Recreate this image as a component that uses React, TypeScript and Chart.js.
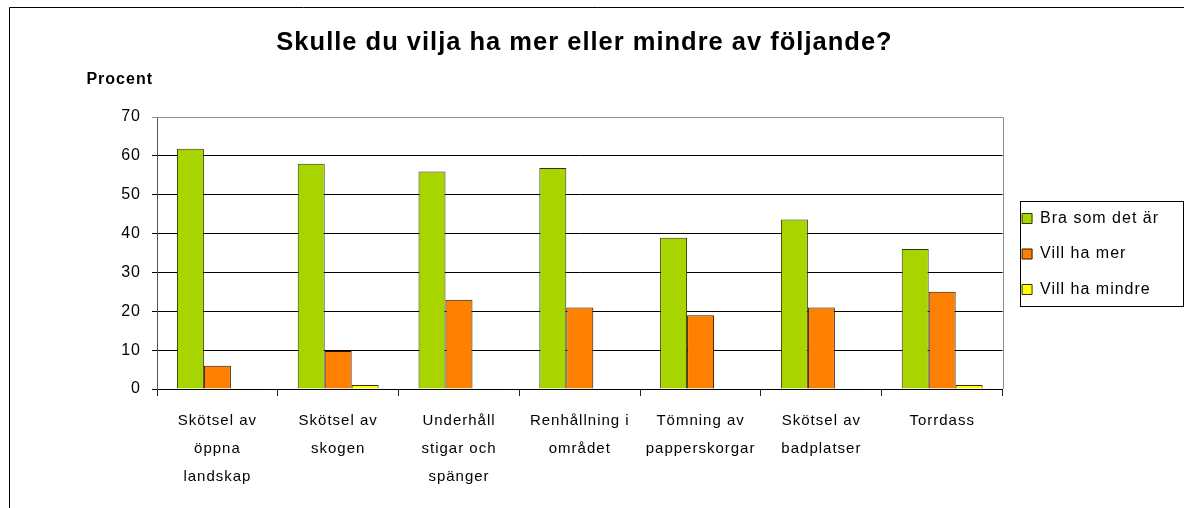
import React, { useEffect, useRef } from "react";
import { Chart, registerables } from "chart.js";

Chart.register(...registerables);

const chartTitle = "Skulle du vilja ha mer eller mindre av följande?";
const yAxisTitle = "Procent";

const categories: string[][] = [
  ["Skötsel av", "öppna", "landskap"],
  ["Skötsel av", "skogen"],
  ["Underhåll", "stigar och", "spänger"],
  ["Renhållning i", "området"],
  ["Tömning av", "papperskorgar"],
  ["Skötsel av", "badplatser"],
  ["Torrdass"],
];

const seriesNames = ["Bra som det är", "Vill ha mer", "Vill ha mindre"];

const braSomDetAr = [61.8, 58.0, 56.0, 56.9, 38.9, 43.6, 36.0];
const villHaMer = [6.0, 9.8, 23.0, 21.0, 19.0, 21.0, 25.0];
const villHaMindre = [0.2, 1.0, 0.2, 0, 0, 0.2, 1.0];

const yMin = 0;
const yMax = 70;
const yStep = 10;

const FONT = "'Liberation Sans', Arial, Helvetica, sans-serif";

const decorPlugin = {
  id: "decor",
  beforeLayout(chart: any) {
    chart.ctx.letterSpacing = "1px";
  },
  beforeDraw(chart: any) {
    const ctx = chart.ctx;
    ctx.letterSpacing = "1px";
    ctx.save();
    ctx.fillStyle = "#ffffff";
    ctx.fillRect(0, 0, chart.width, chart.height);
    // outer frame
    ctx.strokeStyle = "#000000";
    ctx.lineWidth = 1;
    ctx.beginPath();
    ctx.moveTo(9.5, chart.height + 5);
    ctx.lineTo(9.5, 7.5);
    ctx.lineTo(chart.width + 5, 7.5);
    ctx.stroke();
    ctx.restore();
  },
  afterDraw(chart: any) {
    const ctx = chart.ctx;
    const a = chart.chartArea;
    ctx.save();
    // plot area top/right border
    ctx.strokeStyle = "#8c8c8c";
    ctx.lineWidth = 1;
    ctx.beginPath();
    ctx.moveTo(a.left, Math.round(a.top) + 0.5);
    ctx.lineTo(Math.round(a.right) + 0.5, Math.round(a.top) + 0.5);
    ctx.lineTo(Math.round(a.right) + 0.5, a.bottom);
    ctx.stroke();
    // axis title
    ctx.fillStyle = "#000000";
    ctx.font = `bold 16px ${FONT}`;
    ctx.textAlign = "right";
    ctx.textBaseline = "middle";
    ctx.fillText(yAxisTitle, a.left - 4, a.top - 37);
    // legend frame
    const boxes = chart.legend && chart.legend.legendHitBoxes;
    if (boxes && boxes.length) {
      const first = boxes[0];
      const last = boxes[boxes.length - 1];
      const x0 = Math.round(first.left - 2) + 0.5;
      const y0 = Math.round(first.top - 10) + 0.5;
      const y1 = Math.round(last.top + last.height + 8) + 0.5;
      const x1 = chart.width - 0.5;
      ctx.strokeStyle = "#000000";
      ctx.strokeRect(x0, y0, x1 - x0, y1 - y0);
    }
    ctx.restore();
  },
};

export default function App() {
  const canvasRef = useRef<HTMLCanvasElement | null>(null);

  useEffect(() => {
    const canvas = canvasRef.current;
    if (!canvas) return;
    const chart = new Chart(canvas, {
      type: "bar",
      data: {
        labels: categories,
        datasets: [
          {
            label: seriesNames[0],
            data: braSomDetAr,
            backgroundColor: "#a8d400",
            borderColor: "#2e3600",
            borderWidth: 1,
          },
          {
            label: seriesNames[1],
            data: villHaMer,
            backgroundColor: "#ff7f00",
            borderColor: "#2e1400",
            borderWidth: 1,
          },
          {
            label: seriesNames[2],
            data: villHaMindre,
            backgroundColor: "#ffff00",
            borderColor: "#333300",
            borderWidth: 1,
          },
        ],
      },
      options: {
        responsive: false,
        devicePixelRatio: 1,
        animation: false,
        layout: { padding: { left: 0, right: 15, top: 0, bottom: 0 } },
        datasets: {
          bar: {
            categoryPercentage: 0.67,
            barPercentage: 1,
            borderSkipped: "start",
          },
        },
        plugins: {
          title: {
            display: true,
            text: chartTitle,
            color: "#000000",
            font: { family: FONT, size: 25.5, weight: "bold" },
            padding: { top: 28, bottom: 58.4 },
          },
          legend: {
            display: true,
            position: "right",
            labels: {
              color: "#000000",
              font: { family: FONT, size: 16 },
              boxWidth: 10,
              boxHeight: 10,
              padding: 19.5,
            },
          },
          tooltip: { enabled: false },
        },
        scales: {
          x: {
            type: "category",
            afterFit(scale: any) {
              scale.height = 119;
            },
            grid: {
              offset: true,
              drawOnChartArea: false,
              drawTicks: true,
              tickLength: 7,
              color: "#222222",
            },
            border: { display: true, color: "#000000" },
            ticks: {
              color: "#000000",
              font: { family: FONT, size: 15, lineHeight: 1.87 },
              padding: 11,
              autoSkip: false,
              maxRotation: 0,
              minRotation: 0,
            },
          },
          y: {
            type: "linear",
            min: yMin,
            max: yMax,
            afterFit(scale: any) {
              scale.width = 157;
            },
            grid: {
              drawOnChartArea: true,
              drawTicks: true,
              tickLength: 5,
              color: (ctx: any) =>
                ctx.tick && ctx.tick.value === yMax ? "#8c8c8c" : "#000000",
            },
            border: { display: true, color: "#555555" },
            ticks: {
              stepSize: yStep,
              color: "#000000",
              font: { family: FONT, size: 16 },
              padding: 11,
            },
          },
        },
      },
      plugins: [decorPlugin],
    });
    return () => chart.destroy();
  }, []);

  return (
    <div style={{ position: "absolute", left: 0, top: 0, width: 1184, height: 508 }}>
      <canvas ref={canvasRef} width={1184} height={508} style={{ display: "block" }} />
    </div>
  );
}
